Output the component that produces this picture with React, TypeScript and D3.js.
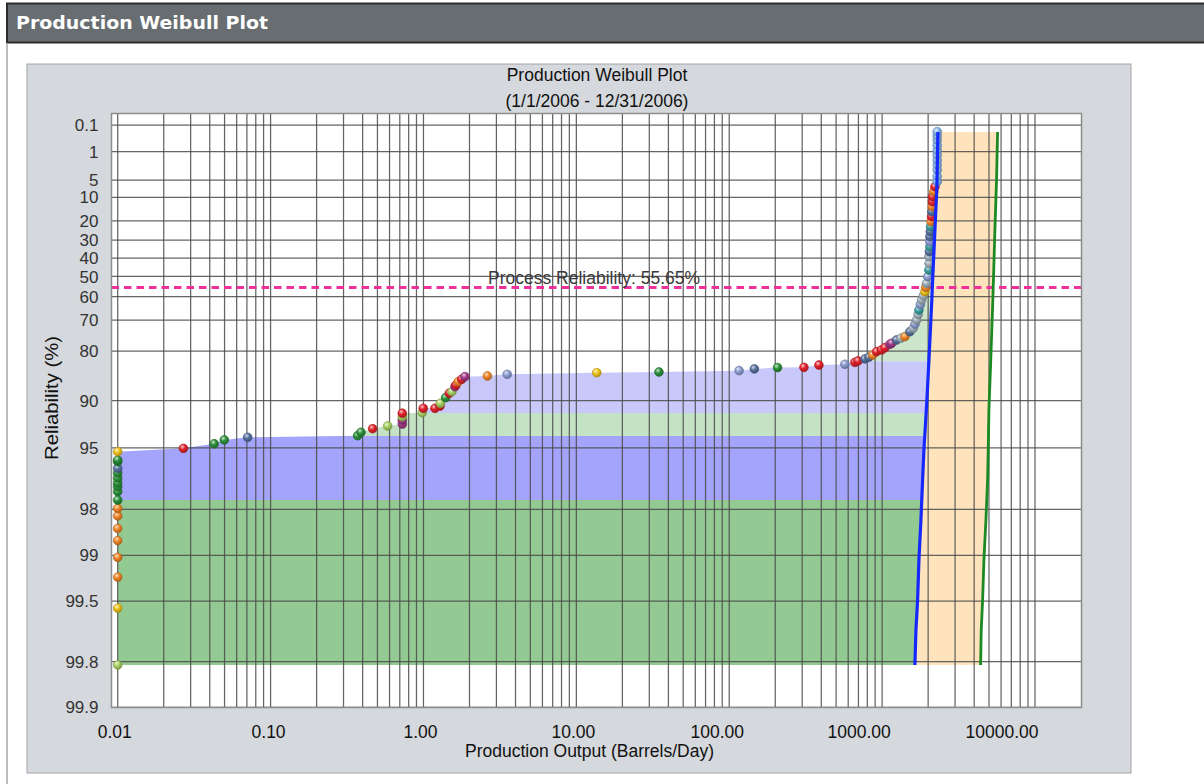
import React from "react";
import * as d3 from "d3";

// ---------- data ----------
const yTickValues = [0.1, 1, 5, 10, 20, 30, 40, 50, 60, 70, 80, 90, 95, 98, 99, 99.5, 99.8, 99.9];
const yTickLabels = ["0.1", "1", "5", "10", "20", "30", "40", "50", "60", "70", "80", "90", "95", "98", "99", "99.5", "99.8", "99.9"];
const xTickValues = [0.01, 0.1, 1, 10, 100, 1000, 10000];
const xTickLabels = ["0.01", "0.10", "1.00", "10.00", "100.00", "1000.00", "10000.00"];

const processReliability = 55.65;

// daily observations: [production (barrels/day), reliability %, colour]
const observations: [number, number, string][] = [
  [0.01, 99.81, "lime"], [0.01, 99.55, "yellow"], [0.01, 99.28, "orange"], [0.01, 99.03, "orange"],
  [0.01, 98.75, "orange"], [0.01, 98.5, "orange"], [0.01, 98.19, "orange"], [0.01, 97.97, "orange"],
  [0.01, 97.7, "green"], [0.01, 97.39, "green"], [0.01, 97.19, "green"], [0.01, 97.03, "green"],
  [0.01, 96.8, "green"], [0.01, 96.55, "green"], [0.01, 96.3, "slate"], [0.01, 95.92, "green"],
  [0.01, 95.82, "green"], [0.01, 95.27, "yellow"],
  [0.0269, 95.03, "red"], [0.0428, 94.68, "green"], [0.0498, 94.37, "green"], [0.0708, 94.15, "slate"],
  [0.371, 94.01, "green"], [0.39, 93.7, "green"], [0.465, 93.36, "red"], [0.583, 93.09, "lime"],
  [0.727, 92.89, "magenta"], [0.727, 92.46, "magenta"], [0.727, 92.09, "lime"], [0.727, 91.68, "red"],
  [0.982, 91.61, "lime"], [0.997, 91.06, "red"], [1.189, 91.06, "red"], [1.282, 90.76, "red"],
  [1.29, 90.39, "lime"], [1.397, 89.58, "green"], [1.475, 88.9, "red"], [1.536, 88.65, "lime"],
  [1.607, 87.81, "magenta"], [1.632, 87.51, "red"], [1.689, 86.91, "orange"], [1.778, 86.46, "red"],
  [1.868, 85.95, "magenta"], [2.62, 85.82, "orange"], [3.53, 85.48, "lightslate"], [13.6, 85.15, "yellow"],
  [34.7, 85.0, "green"], [116, 84.72, "lightslate"], [146, 84.35, "slate"], [207, 84.05, "green"],
  [308, 83.99, "red"], [386, 83.47, "red"], [571, 83.3, "lightslate"], [664, 82.85, "red"],
  [695, 82.53, "red"], [772, 82.03, "slate"], [820, 81.6, "slate"], [867, 81.03, "orange"],
  [920, 80.16, "red"], [992, 79.69, "red"], [1043, 79.05, "red"], [1125, 78.07, "magenta"],
  [1154, 77.78, "magenta"], [1244, 76.78, "slate"], [1330, 76.2, "gray"], [1410, 75.74, "orange"],
  [1520, 74.1, "slate"], [1598, 72.93, "gray"], [1640, 71.5, "lightslate"], [1682, 69.9, "gray"],
  [1720, 67.8, "gray"], [1741, 65.94, "teal"], [1780, 63.6, "lightslate"], [1813, 61.58, "gray"],
  [1860, 59.6, "gray"], [1905, 57.69, "yellow"], [1930, 55.6, "orange"], [1954, 53.53, "gray"],
  [1990, 50.1, "lightslate"], [2023, 46.54, "teal"], [2030, 43.0, "gray"], [2023, 39.21, "gray"],
  [2040, 36.4, "slate"], [2054, 33.67, "teal"], [2054, 30.9, "lightslate"], [2054, 28.16, "slate"],
  [2066, 25.4, "slate"], [2076, 22.86, "teal"], [2090, 20.3, "orange"], [2107, 17.95, "red"],
  [2115, 15.7, "slate"], [2127, 13.55, "orange"], [2133, 11.6, "red"], [2139, 9.77, "red"],
  [2180, 8.1, "orange"], [2215, 6.67, "red"], [2293, 5.39, "lightblue"], [2293, 4.2, "lightblue"],
  [2293, 3.05, "lightblue"], [2293, 2.3, "lightblue"], [2293, 1.72, "lightblue"], [2293, 1.25, "lightblue"],
  [2293, 0.89, "lightblue"], [2293, 0.62, "lightblue"], [2293, 0.41, "lightblue"], [2293, 0.28, "lightblue"],
  [2293, 0.195, "lightblue"],
];

// fitted capability line (blue) and design line (green): [production, reliability %]
const blueLine: [number, number][] = [
  [2317, 0.2], [2281, 6.75], [2130, 55.65], [2117, 60.67], [2023, 82.53], [1963, 89.92], [1877, 95.15],
  [1840, 96.89], [1794, 98.3], [1741, 99.07], [1707, 99.49], [1664, 99.68], [1639, 99.81],
];
const greenLine: [number, number][] = [
  [5692, 0.2], [5610, 4.34], [5467, 24.58], [5304, 60.67], [5123, 83.47], [4994, 91.27], [4943, 95.15],
  [4898, 96.89], [4775, 98.3], [4633, 99.07], [4543, 99.49], [4448, 99.68], [4408, 99.81],
];

// loss bands (reliability % from, to) and fill colour
const bandTop = [55.65, 82.6, 91.65, 94.03, 97.7];
const bandBottom = [82.6, 91.65, 94.03, 97.7, 99.81];
const bandFill = ["#cce6cc", "#c8c8fb", "#c4e2c4", "#a4a4fd", "#93c993"];

const pointColors: Record<string, string> = {
  red: "#e2222a",
  green: "#2a9038",
  orange: "#f08526",
  yellow: "#eec21a",
  slate: "#56709e",
  lightslate: "#8a9cd0",
  lime: "#a6d060",
  magenta: "#a33a86",
  teal: "#3a9ea0",
  gray: "#9fb0bb",
  lightblue: "#86b6e8",
};

// ---------- layout ----------
const W = 1204;
const H = 784;
const plot = { left: 111.5, right: 1081.5, top: 113.5, bottom: 707.5 };
const xLabelNudge = [-3, -2, -3, -3, -12, -23, -33];
const FONT = "'Liberation Sans', Arial, sans-serif";

export default function App() {
  const x = d3.scaleLog().domain([0.01, 10000]).range([117.7, 1035]);
  const weib = (r: number) => Math.log(-Math.log(r / 100));
  const yw = d3.scaleLinear().domain([weib(0.1), weib(99.9)]).range([125, 707.3]);
  const y = (r: number) => yw(weib(r));

  const xGrid = d3.scaleLog().domain([0.01, 10000]).ticks();

  // region between observation curve and the blue line, above the process reliability
  const curve = observations
    .filter((d) => d[1] >= 57)
    .slice()
    .sort((a, b) => b[1] - a[1] || a[0] - b[0]);
  const blueUpper = blueLine.filter((d) => d[1] >= processReliability).slice().sort((a, b) => a[1] - b[1]);
  const regionPts: [number, number][] = [...curve.map((d) => [d[0], d[1]] as [number, number]), ...blueUpper];
  const lineGen = d3
    .line<[number, number]>()
    .x((d) => x(d[0]))
    .y((d) => y(d[1]));
  const regionPath = lineGen(regionPts) + "Z";

  const bluePath = lineGen(blueLine);
  const greenPath = lineGen(greenLine);
  const orangePts: [number, number][] = [...blueLine, ...greenLine.slice().reverse()];
  const orangePath = lineGen(orangePts) + "Z";

  const colorKeys = Object.keys(pointColors);
  const darker = (c: string) => d3.color(c)!.darker(0.9).formatHex();
  const lighter = (c: string) => d3.interpolateRgb(c, "#ffffff")(0.75);

  const pr = y(processReliability);

  return (
    <svg
      width={W}
      height={H}
      style={{ position: "absolute", left: 0, top: 0, background: "#ffffff" }}
      xmlns="http://www.w3.org/2000/svg"
    >
      <defs>
        {colorKeys.map((k) => (
          <radialGradient key={k} id={`g-${k}`} cx="38%" cy="32%" r="70%">
            <stop offset="0%" stopColor={lighter(pointColors[k])} />
            <stop offset="45%" stopColor={pointColors[k]} />
            <stop offset="100%" stopColor={darker(pointColors[k])} />
          </radialGradient>
        ))}
        <clipPath id="plotClip">
          <rect x={plot.left} y={plot.top} width={plot.right - plot.left} height={plot.bottom - plot.top} />
        </clipPath>
        {bandTop.map((t, i) => (
          <clipPath key={i} id={`band-${i}`}>
            <rect
              x={plot.left}
              y={y(t)}
              width={plot.right - plot.left}
              height={y(bandBottom[i]) - y(t)}
            />
          </clipPath>
        ))}
      </defs>

      {/* page header */}
      <rect x={7} y={3.5} width={W} height={39} fill="#676d71" stroke="#2c2c2c" strokeWidth={2} />
      <text
        x={16}
        y={28.5}
        fill="#ffffff"
        fontFamily="'DejaVu Sans', Verdana, sans-serif"
        fontWeight="bold"
        fontSize={18.5}
        textLength={252}
        lengthAdjust="spacingAndGlyphs"
      >
        Production Weibull Plot
      </text>
      <line x1={7} y1={43} x2={7} y2={H} stroke="#a8a8a8" strokeWidth={1.5} />

      {/* chart panel */}
      <rect x={27} y={64} width={1104} height={709} fill="#d5d8dc" stroke="#a3a3a3" strokeWidth={1} />
      <rect
        x={plot.left}
        y={plot.top}
        width={plot.right - plot.left}
        height={plot.bottom - plot.top}
        fill="#ffffff"
      />

      <text x={597} y={81} textAnchor="middle" fontFamily={FONT} fontSize={17.5} fill="#111">
        Production Weibull Plot
      </text>
      <text x={597} y={107} textAnchor="middle" fontFamily={FONT} fontSize={17.5} fill="#111">
        (1/1/2006 - 12/31/2006)
      </text>

      <g clipPath="url(#plotClip)">
        {/* loss regions */}
        {bandTop.map((t, i) => (
          <path key={i} d={regionPath} fill={bandFill[i]} clipPath={`url(#band-${i})`} />
        ))}
        <path d={orangePath} fill="#fee3bd" />

        {/* grid */}
        {xGrid.map((v, i) => (
          <line key={`vx${i}`} x1={x(v)} x2={x(v)} y1={plot.top} y2={plot.bottom} stroke="#4a4a4a" strokeOpacity={0.85} strokeWidth={1.25} />
        ))}
        {yTickValues.map((v, i) => (
          <line key={`hy${i}`} x1={plot.left} x2={plot.right} y1={y(v)} y2={y(v)} stroke="#4a4a4a" strokeOpacity={0.85} strokeWidth={1.25} />
        ))}

        {/* process reliability */}
        <line
          x1={plot.left}
          x2={plot.right}
          y1={pr}
          y2={pr}
          stroke="#f0309a"
          strokeWidth={3}
          strokeDasharray="7.5 5"
        />

        {/* observations */}
        {observations.map((d, i) => (
          <circle
            key={`p${i}`}
            cx={x(d[0])}
            cy={y(d[1])}
            r={4.4}
            fill={`url(#g-${d[2]})`}
            stroke={darker(pointColors[d[2]])}
            strokeWidth={0.6}
          />
        ))}

        <path d={greenPath!} fill="none" stroke="#1c8a22" strokeWidth={2.8} />
        <path d={bluePath!} fill="none" stroke="#1428ff" strokeWidth={3.2} />
      </g>

      <text x={488} y={283.5} fontFamily={FONT} fontSize={17.5} fill="#3a3a3a">
        Process Reliability: 55.65%
      </text>

      {/* plot frame */}
      <rect
        x={plot.left}
        y={plot.top}
        width={plot.right - plot.left}
        height={plot.bottom - plot.top}
        fill="none"
        stroke="#8d8d8d"
        strokeWidth={1.5}
      />

      {/* y axis */}
      {yTickValues.map((v, i) => (
        <text
          key={`yl${i}`}
          x={98.5}
          y={y(v)}
          dy="0.36em"
          textAnchor="end"
          fontFamily={FONT}
          fontSize={17}
          fill="#333"
        >
          {yTickLabels[i]}
        </text>
      ))}
      <text
        transform={`translate(57.5,398) rotate(-90)`}
        textAnchor="middle"
        fontFamily={FONT}
        fontSize={17.5}
        textLength={124}
        lengthAdjust="spacingAndGlyphs"
        fill="#111"
      >
        Reliability (%)
      </text>

      {/* x axis */}
      {xTickValues.map((v, i) => (
        <text
          key={`xl${i}`}
          x={x(v) + xLabelNudge[i]}
          y={737.5}
          textAnchor="middle"
          fontFamily={FONT}
          fontSize={17.5}
          fill="#111"
        >
          {xTickLabels[i]}
        </text>
      ))}
      <text x={589.5} y={756.5} textAnchor="middle" fontFamily={FONT} fontSize={17.5} fill="#111">
        Production Output (Barrels/Day)
      </text>
    </svg>
  );
}
